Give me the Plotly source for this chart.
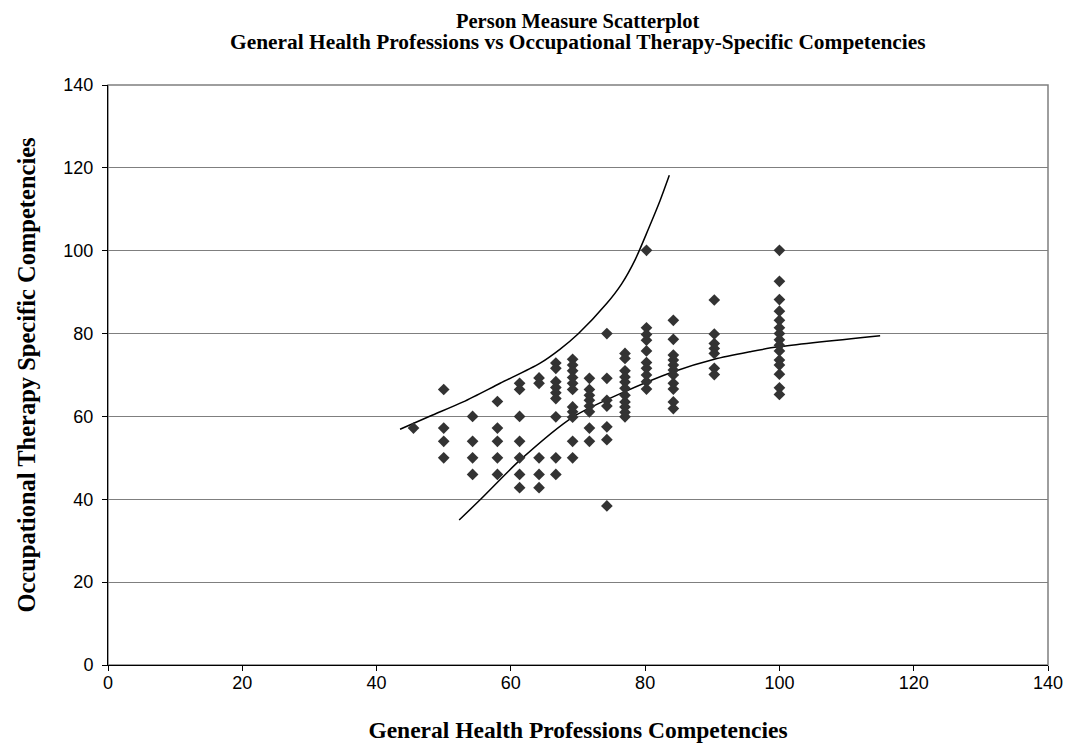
import plotly.graph_objects as go

# Scatter data: x (General Health Professions) and y (Occupational Therapy) measures, by column
cols = {
    45.5: [57.2],
    50.0: [66.5, 57.2, 54.0, 50.0],
    54.3: [60.0, 54.0, 50.0, 46.0],
    58.0: [63.6, 57.2, 54.0, 50.0, 46.0],
    61.3: [68.0, 66.5, 60.0, 54.0, 50.0, 46.0, 42.8],
    64.2: [69.3, 68.0, 50.0, 46.0, 42.8],
    66.7: [72.9, 71.6, 68.4, 67.0, 65.7, 64.3, 59.9, 50.0, 46.0],
    69.2: [73.8, 72.4, 71.0, 69.4, 68.0, 66.5, 62.3, 61.1, 59.8, 54.0, 50.0],
    71.7: [69.2, 66.5, 65.1, 63.9, 62.5, 61.1, 57.2, 54.0],
    74.3: [80.0, 69.2, 63.9, 62.5, 57.5, 54.4, 38.4],
    77.0: [75.2, 74.0, 71.0, 69.5, 68.3, 66.8, 65.1, 63.5, 62.3, 61.0, 59.9],
    80.2: [100.1, 81.4, 79.8, 78.4, 75.8, 73.0, 71.6, 70.0, 68.4, 66.6],
    84.2: [83.2, 78.6, 74.8, 73.6, 72.4, 71.2, 70.0, 68.0, 66.6, 63.5, 61.9],
    90.3: [88.1, 79.9, 77.6, 76.4, 75.2, 71.6, 70.1],
    100.0: [100.1, 92.6, 88.2, 85.4, 83.2, 81.4, 80.0, 78.5, 77.2, 75.8, 73.6, 72.4, 70.2, 66.9, 65.3],
}
x_pts = [x for x, ys in cols.items() for _ in ys]
y_pts = [y for ys in cols.values() for y in ys]

# Upper band curve
upper_x = [43.5, 48.0, 52.9, 58.4, 64.3, 67.3, 70.0, 74.3, 76.5, 78.5, 80.5, 82.2, 83.6]
upper_y = [56.9, 60.1, 63.5, 68.0, 72.8, 76.2, 79.9, 87.3, 92.0, 97.8, 105.3, 112.0, 118.2]

# Lower band curve
lower_x = [52.3, 55.5, 61.4, 69.3, 76.3, 84.2, 90.3, 95.6, 99.8, 115.0]
lower_y = [35.0, 40.0, 49.5, 59.9, 65.5, 70.8, 73.8, 75.6, 76.8, 79.5]

tick_vals = [0, 20, 40, 60, 80, 100, 120, 140]
title_lines = ["Person Measure Scatterplot",
               "General Health Professions vs Occupational Therapy-Specific Competencies"]

fig = go.Figure()
line_style = dict(color="black", width=1.5, shape="spline", smoothing=0.8)
fig.add_trace(go.Scatter(x=upper_x, y=upper_y, mode="lines", line=line_style, hoverinfo="skip"))
fig.add_trace(go.Scatter(x=lower_x, y=lower_y, mode="lines", line=line_style, hoverinfo="skip"))
fig.add_trace(go.Scatter(x=x_pts, y=y_pts, mode="markers",
                         marker=dict(symbol="diamond", size=9, color="#333333", line=dict(width=0))))

serif = "Liberation Serif, Times New Roman, serif"
sans = "Liberation Sans, Arial, sans-serif"

W, H = 1067, 735
L, R, T, B = 100, 27, 77, 78
PH = H - T - B
PW = W - L - R
xc = (569.5 - L) / PW

annotations = [
    dict(text=f"<b>{title_lines[0]}</b>", xref="paper", yref="paper", x=xc,
         y=1 + (T - 0) / PH, xanchor="center", yanchor="top", showarrow=False,
         font=dict(family=serif, size=20.5, color="black")),
    dict(text=f"<b>{title_lines[1]}</b>", xref="paper", yref="paper", x=xc,
         y=1 + (T - 34) / PH, xanchor="center", yanchor="middle", showarrow=False,
         font=dict(family=serif, size=21.4, color="black")),
]

fig.update_layout(
    width=W, height=H,
    paper_bgcolor="white", plot_bgcolor="white",
    showlegend=False,
    margin=dict(l=L, r=R, t=T, b=B),
    annotations=annotations,
    xaxis=dict(
        range=[0, 140], tickvals=tick_vals, ticks="outside", ticklen=5, tickcolor="black",
        showgrid=False, zeroline=False, showline=True, linecolor="black", linewidth=1,
        automargin=False,
        tickfont=dict(family=sans, size=18, color="black"), ticklabelstandoff=-4,
        title=dict(text="<b>General Health Professions Competencies</b>", font=dict(family=serif, size=23.5, color="black"), standoff=32),
    ),
    yaxis=dict(
        range=[0, 140], tickvals=tick_vals, ticks="outside", ticklen=5, tickcolor="black",
        showgrid=True, gridcolor="#7f7f7f", gridwidth=1, zeroline=False,
        showline=True, linecolor="black", linewidth=1,
        automargin=False,
        tickfont=dict(family=sans, size=18, color="black"), ticklabelstandoff=5,
        title=dict(text="<b>Occupational Therapy Specific Competencies</b>", font=dict(family=serif, size=24.5, color="black"), standoff=20),
    ),
    shapes=[dict(type="rect", xref="paper", yref="paper", x0=0, y0=0, x1=1, y1=1,
                 line=dict(color="#7f7f7f", width=1.5), layer="below")],
)

fig.write_html("out.html")
